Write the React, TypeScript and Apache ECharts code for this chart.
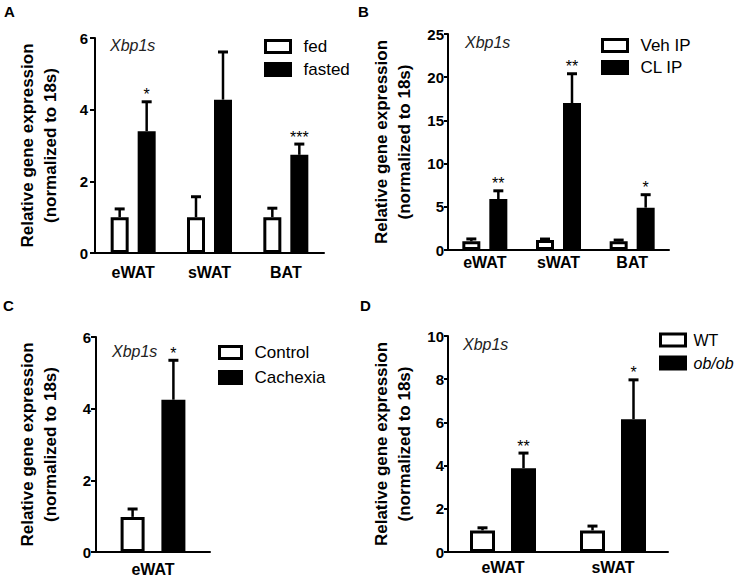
import React, { useEffect, useRef } from "react";
import * as echarts from "echarts";

const FONT = "'Liberation Sans', Arial, Helvetica, sans-serif";

// Panel A
const catsA = ["eWAT", "sWAT", "BAT"];
const fedA = [1.0, 1.0, 1.0];
const fedErrA = [0.23, 0.57, 0.25];
const fastedA = [3.4, 4.28, 2.74];
const fastedErrA = [0.82, 1.33, 0.3];
const starsA = ["*", "", "***"];
const ticksA = { max: 6, interval: 2 };

// Panel B
const catsB = ["eWAT", "sWAT", "BAT"];
const vehB = [1.0, 1.15, 1.0];
const vehErrB = [0.28, 0.12, 0.15];
const clB = [5.9, 17.0, 4.9];
const clErrB = [0.95, 3.4, 1.5];
const starsB = ["**", "**", "*"];
const ticksB = { max: 25, interval: 5 };

// Panel C
const catsC = ["eWAT"];
const controlC = [0.98];
const controlErrC = [0.22];
const cachexiaC = [4.25];
const cachexiaErrC = [1.1];
const starsC = ["*"];
const ticksC = { max: 6, interval: 2 };

// Panel D
const catsD = ["eWAT", "sWAT"];
const wtD = [1.0, 1.0];
const wtErrD = [0.12, 0.2];
const obD = [3.88, 6.15];
const obErrD = [0.7, 1.82];
const starsD = ["**", "*"];
const ticksD = { max: 10, interval: 2 };

type Panel = {
  cats: string[];
  names: [string, string];
  a: number[];
  aErr: number[];
  b: number[];
  bErr: number[];
  stars: string[];
  ticks: { max: number; interval: number };
  grid: { left: number; top: number; width: number; height: number };
  barWidth: number;
  barGap: number; // fraction
  xLabelMargin: number;
  yLabelMargin: number;
  tickLen: number;
  nameGap: number;
  legend: { left: number; top: number; itemGap: number; itemWidth: number; pad: number; fontSize: number };
  italicSecond?: boolean;
};

const panels: Panel[] = [
  {
    cats: catsA, names: ["fed", "fasted"], a: fedA, aErr: fedErrA, b: fastedA, bErr: fastedErrA,
    stars: starsA, ticks: ticksA,
    grid: { left: 95, top: 38, width: 229, height: 215 },
    barWidth: 18, barGap: 0.5, xLabelMargin: 11, yLabelMargin: 7, tickLen: 5, nameGap: 33,
    legend: { left: 259, top: 33, itemGap: 6, itemWidth: 25, pad: 8, fontSize: 17 },
  },
  {
    cats: catsB, names: ["Veh IP", "CL IP"], a: vehB, aErr: vehErrB, b: clB, bErr: clErrB,
    stars: starsB, ticks: ticksB,
    grid: { left: 448, top: 34, width: 221, height: 216 },
    barWidth: 18, barGap: 0.5, xLabelMargin: 4, yLabelMargin: 4, tickLen: 4, nameGap: 32,
    legend: { left: 596, top: 32, itemGap: 5, itemWidth: 25, pad: 8, fontSize: 17 },
  },
  {
    cats: catsC, names: ["Control", "Cachexia"], a: controlC, aErr: controlErrC, b: cachexiaC, bErr: cachexiaErrC,
    stars: starsC, ticks: ticksC,
    grid: { left: 96, top: 337, width: 114, height: 216 },
    barWidth: 24, barGap: 0.7, xLabelMargin: 9, yLabelMargin: 5, tickLen: 5, nameGap: 34,
    legend: { left: 213, top: 339, itemGap: 8, itemWidth: 22, pad: 8, fontSize: 17 },
  },
  {
    cats: catsD, names: ["WT", "ob/ob"], a: wtD, aErr: wtErrD, b: obD, bErr: obErrD,
    stars: starsD, ticks: ticksD,
    grid: { left: 448, top: 336, width: 220, height: 216 },
    barWidth: 25, barGap: 0.64, xLabelMargin: 7, yLabelMargin: 4, tickLen: 4, nameGap: 32,
    legend: { left: 654, top: 327, itemGap: 7, itemWidth: 25, pad: 3, fontSize: 16 },
    italicSecond: true,
  },
];

const geneLabels = [
  { text: "Xbp1s", x: 110, y: 46 },
  { text: "Xbp1s", x: 465, y: 43 },
  { text: "Xbp1s", x: 112, y: 352 },
  { text: "Xbp1s", x: 463, y: 345 },
];

const panelLetters = [
  { text: "A", x: 4, y: 12 },
  { text: "B", x: 358, y: 12 },
  { text: "C", x: 3, y: 306 },
  { text: "D", x: 360, y: 306 },
];

function buildOption() {
  const grid: any[] = [];
  const xAxis: any[] = [];
  const yAxis: any[] = [];
  const series: any[] = [];
  const legend: any[] = [];

  panels.forEach((p, i) => {
    grid.push({ ...p.grid, containLabel: false });
    xAxis.push({
      type: "category",
      gridIndex: i,
      data: p.cats,
      axisLine: { lineStyle: { color: "#000", width: 2 } },
      axisTick: { show: false },
      axisLabel: {
        color: "#000", fontWeight: "bold", fontSize: 16, fontFamily: FONT, margin: p.xLabelMargin,
      },
    });
    yAxis.push({
      type: "value",
      gridIndex: i,
      min: 0,
      max: p.ticks.max,
      interval: p.ticks.interval,
      name: "Relative gene expression\n(normalized to 18s)",
      nameLocation: "middle",
      nameRotate: 90,
      nameGap: p.nameGap,
      nameTextStyle: {
        color: "#000", fontWeight: "bold", fontSize: 17, fontFamily: FONT, lineHeight: 23,
      },
      splitLine: { show: false },
      axisLine: { show: true, lineStyle: { color: "#000", width: 2 } },
      axisTick: { show: true, length: p.tickLen, lineStyle: { color: "#000", width: 2 } },
      axisLabel: {
        color: "#000", fontWeight: "bold", fontSize: 15, fontFamily: FONT, margin: p.yLabelMargin,
      },
    });

    const colors = ["#ffffff", "#000000"];
    const vals = [p.a, p.b];
    const errs = [p.aErr, p.bErr];
    const off = ((p.barWidth + p.barWidth * p.barGap) / 2);
    const offsets = [-off, off];

    [0, 1].forEach((k) => {
      series.push({
        type: "bar",
        name: p.names[k],
        xAxisIndex: i,
        yAxisIndex: i,
        data: vals[k],
        barWidth: p.barWidth,
        barGap: `${Math.round(p.barGap * 100)}%`,
        itemStyle: { color: colors[k], borderColor: "#000", borderWidth: 3 },
        emphasis: { disabled: true },
        z: 2,
      });
    });

    [0, 1].forEach((k) => {
      const dx = offsets[k];
      const starList = k === 1 ? p.stars : p.cats.map(() => "");
      series.push({
        type: "custom",
        name: `err-${i}-${k}`,
        xAxisIndex: i,
        yAxisIndex: i,
        z: 3,
        silent: true,
        data: vals[k].map((v, j) => [j, v, errs[k][j]]),
        renderItem: (params: any, api: any) => {
          const c = api.value(0);
          const v = api.value(1);
          const e = api.value(2);
          const base = api.coord([c, v]);
          const top = api.coord([c, v + e]);
          const x = base[0] + dx;
          const star = starList[params.dataIndex] || "";
          return {
            type: "group",
            children: [
              {
                type: "line",
                shape: { x1: x, y1: base[1], x2: x, y2: top[1] },
                style: { stroke: "#000", lineWidth: 2.5 },
              },
              {
                type: "line",
                shape: { x1: x - 5, y1: top[1], x2: x + 5, y2: top[1] },
                style: { stroke: "#000", lineWidth: 3 },
              },
              {
                type: "text",
                x: x,
                y: top[1] + 1,
                style: {
                  text: star,
                  fill: "#000",
                  fontSize: 16,
                  fontFamily: FONT,
                  align: "center",
                  verticalAlign: "bottom",
                },
              },
            ],
          };
        },
      });
    });

    legend.push({
      orient: "vertical",
      left: p.legend.left,
      top: p.legend.top,
      itemGap: p.legend.itemGap,
      itemWidth: p.legend.itemWidth,
      itemHeight: 12,
      icon: "rect",
      selectedMode: false,
      textStyle: {
        color: "#000", fontSize: p.legend.fontSize, fontFamily: FONT, padding: [0, 0, 0, p.legend.pad],
      },
      data: [
        { name: p.names[0], itemStyle: { color: "#fff", borderColor: "#000", borderWidth: 3 } },
        {
          name: p.names[1],
          itemStyle: { color: "#000", borderColor: "#000", borderWidth: 3 },
          textStyle: p.italicSecond ? { fontStyle: "italic" } : undefined,
        },
      ],
    });
  });

  const graphic: any[] = [];
  geneLabels.forEach((g) => {
    graphic.push({
      type: "text",
      left: g.x,
      top: g.y - 9,
      style: { text: g.text, fill: "#222", fontSize: 16, fontStyle: "italic", fontFamily: FONT },
    });
  });
  panelLetters.forEach((g) => {
    graphic.push({
      type: "text",
      left: g.x,
      top: g.y - 8,
      style: { text: g.text, fill: "#000", fontSize: 15, fontWeight: "bold", fontFamily: FONT },
    });
  });

  return {
    animation: false,
    backgroundColor: "#ffffff",
    textStyle: { fontFamily: FONT },
    grid,
    xAxis,
    yAxis,
    legend,
    series,
    graphic,
  };
}

export default function App() {
  const ref = useRef<HTMLDivElement>(null);
  useEffect(() => {
    if (!ref.current) return;
    const chart = echarts.init(ref.current, null, { renderer: "svg" });
    chart.setOption(buildOption() as any);
    return () => {
      chart.dispose();
    };
  }, []);
  return (
    <div
      ref={ref}
      style={{ position: "absolute", left: 0, top: 0, width: 739, height: 577, background: "#fff" }}
    />
  );
}
